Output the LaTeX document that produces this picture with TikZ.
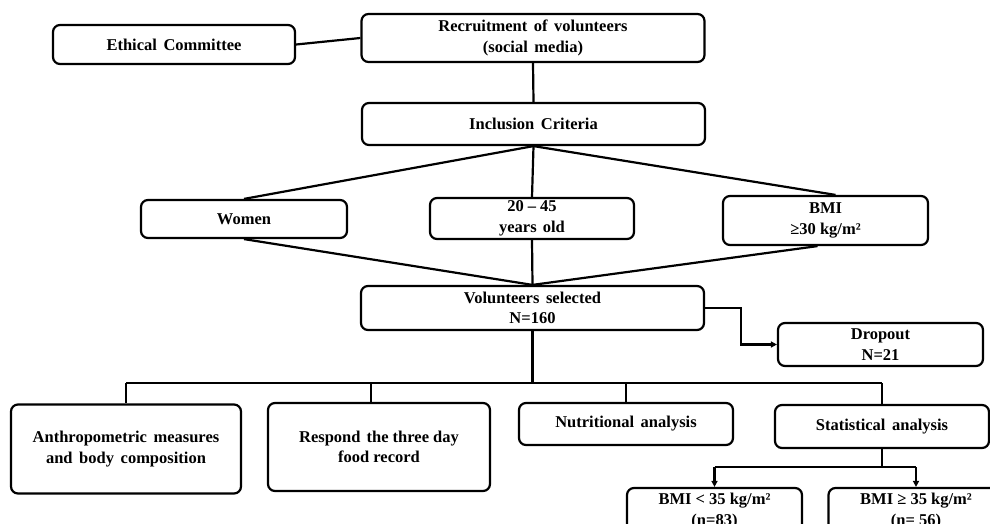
\documentclass[tikz,border=0pt]{standalone}
\usepackage{fontspec}
\setmainfont{Liberation Serif}
\usetikzlibrary{arrows.meta,calc}
\newcommand\myboxfont{\fontsize{16.5}{20.5}\selectfont\bfseries\spaceskip=0.4em\relax}
\newcommand\mytightfont{\fontsize{16.5}{20.5}\selectfont\bfseries}
\begin{document}
\begin{tikzpicture}[x=1pt,y=-1pt,
  box/.style={draw=black, line width=2.2pt, rounded corners=7pt, inner sep=0pt,
    align=center, font=\myboxfont},
  tight/.style={font=\mytightfont},
  link/.style={line width=2.2pt, draw=black},
  arr/.style={link, -{Triangle[length=6pt,width=6pt]}}]
\useasboundingbox (0,0) rectangle (990,524);
\clip (0,0) rectangle (990,524);
\fill[white] (0,0) rectangle (990,524);
% nodes
\node[box, minimum width=242, minimum height=39] (eth) at (174,44.5) {Ethical Committee};
\node[box, minimum width=343, minimum height=48] (rec) at (533,38) {Recruitment of volunteers\\(social media)};
\node[box, minimum width=343, minimum height=42] (inc) at (533.5,124) {Inclusion Criteria};
\node[box, minimum width=206, minimum height=38] (wom) at (244,219) {Women};
\node[box, tight, minimum width=204, minimum height=41] (age) at (532,218.5) {20 – 45\\years\hspace{0.12em} old};
\node[box, tight, minimum width=205, minimum height=49] (bmi) at (825.5,220.5) {BMI\\≥30 kg/m²};
\node[box, minimum width=343, minimum height=44] (vol) at (532.5,308) {Volunteers selected\\N=160};
\node[box, minimum width=205, minimum height=43] (drop) at (880.5,344.5) {Dropout\\N=21};
\node[box, minimum width=230, minimum height=89] (ant) at (126,449) {Anthropometric measures\\and body composition};
\node[box, tight, minimum width=222, minimum height=88] (res) at (379,447) {Respond\hspace{0.12em} the three day\\food record};
\node[box, minimum width=214, minimum height=42] (nut) at (626,424) {Nutritional analysis};
\node[box, minimum width=214, minimum height=43] (sta) at (882,426.5) {Statistical analysis};
\node[box, tight, minimum width=175, minimum height=46] (b1) at (714.5,511) {BMI < 35 kg/m²\\(n=83)};
\node[box, tight, minimum width=175, minimum height=46] (b2) at (916,511) {BMI ≥ 35 kg/m²\\(n= 56)};
% helper coordinates
\coordinate (bus) at (0,383);
\coordinate (split) at (0,467);
\coordinate (turn) at (741,0);
% connectors
\draw[link] (eth.east) -- (rec.west);
\draw[link] (rec.south) -- (inc.north);
\draw[link] (inc.south) -- (wom.north);
\draw[link] (inc.south) -- (age.north);
\draw[link] (inc.south) -- ($(bmi.north)+(10,0)$);
\draw[link] (wom.south) -- (vol.north);
\draw[link] (age.south) -- (vol.north);
\draw[link] ($(bmi.south)+(-8,0)$) -- (vol.north);
\draw[arr] (vol.east) -- (turn |- vol.east) |- (drop.west);
\draw[link] (vol.south) -- (vol.south |- bus);
\draw[link] (ant.north |- bus) -- (sta.north |- bus);
\draw[link] (ant.north |- bus) -- (ant.north);
\draw[link] ($(res.north |- bus)+(-8,0)$) -- ($(res.north)+(-8,0)$);
\draw[link] (nut.north |- bus) -- (nut.north);
\draw[link] (sta.north |- bus) -- (sta.north);
\draw[link] (sta.south) -- (sta.south |- split);
\draw[link] (b1.north |- split) -- (b2.north |- split);
\draw[arr] (b1.north |- split) -- (b1.north);
\draw[arr] (b2.north |- split) -- (b2.north);
\end{tikzpicture}
\end{document}
